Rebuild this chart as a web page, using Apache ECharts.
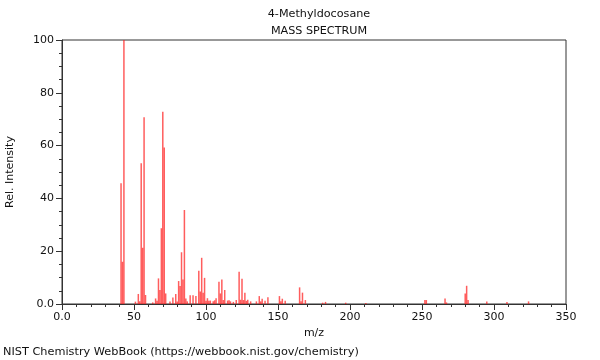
<!DOCTYPE html>
<html>
<head>
<meta charset="utf-8">
<script src="https://cdn.jsdelivr.net/npm/echarts@6/dist/echarts.min.js"></script>
<style>html,body{margin:0;padding:0;background:#fff;}#c{width:600px;height:360px;}</style>
</head>
<body>
<div id="c"></div>
<script>
const titleText = "4-Methyldocosane";
const subtitleText = "MASS SPECTRUM";
const footerText = "NIST Chemistry WebBook (https://webbook.nist.gov/chemistry)";
const mzValues = [41,42,43,51,53,54,55,56,57,58,63,65,66,67,68,69,70,71,72,75,77,79,80,81,82,83,84,85,86,87,89,91,93,95,96,97,98,99,100,101,102,103,105,106,107,109,110,111,112,113,115,116,117,119,121,123,124,125,126,127,128,129,131,135,137,138,139,141,143,151,152,153,155,165,166,167,169,181,183,197,211,252,253,266,267,280,281,282,295,309,324];
const intensities = [45.7,16.0,100,0.9,3.8,1.0,53.3,21.3,70.7,3.4,0.6,2.1,1.2,9.7,5.3,28.7,72.8,59.3,4.0,0.9,2.5,3.8,0.9,8.7,6.8,19.6,9.3,35.6,2.1,1.0,3.3,3.3,3.0,12.6,4.7,17.5,4.3,9.9,1.2,2.2,1.2,1.3,1.0,1.4,2.2,8.4,4.0,9.3,1.5,5.3,1.3,1.4,1.0,0.8,1.5,12.2,1.6,9.6,1.5,4.3,1.2,1.6,1.0,1.0,3.0,1.0,2.0,1.2,2.6,3.0,1.0,2.0,1.2,6.3,1.0,4.3,1.5,0.5,0.8,0.5,0.4,1.5,1.5,2.1,0.6,4.0,6.9,1.5,0.9,0.8,1.0];
const xTicks = {min: 0, max: 350, interval: 50};
const yTicks = {min: 0, max: 100, interval: 20};

const chart = echarts.init(document.getElementById('c'), null, {renderer: 'canvas'});
const font = 'DejaVu Sans';
const fmt = v => v === 0 ? '0.0' : String(v);
chart.setOption({
  animation: false,
  backgroundColor: '#fff',
  textStyle: {fontFamily: font},
  title: [
    {text: titleText, left: 314, top: 4, textAlign: 'center', textStyle: {fontSize: 11.2, fontWeight: 'normal', color: '#111', fontFamily: font}},
    {text: subtitleText, left: 314, top: 21, textAlign: 'center', textStyle: {fontSize: 11.2, fontWeight: 'normal', color: '#111', fontFamily: font}},
    {text: footerText, left: 3, top: 347, padding: 0, textStyle: {fontSize: 11.3, fontWeight: 'normal', color: '#111', fontFamily: font}}
  ],
  grid: {left: 62, right: 34, top: 40, bottom: 56, show: true, borderColor: '#333', borderWidth: 1, backgroundColor: 'transparent', containLabel: false, outerBoundsMode: 'none'},
  xAxis: {
    type: 'value', min: xTicks.min, max: xTicks.max, interval: xTicks.interval,
    name: 'm/z', nameLocation: 'middle', nameGap: 24,
    nameTextStyle: {fontSize: 11, color: '#111', fontFamily: font},
    axisLine: {show: true, lineStyle: {color: '#333'}},
    axisTick: {show: true, length: 6, lineStyle: {color: '#333'}},
    minorTick: {show: true, splitNumber: 5, length: 3, lineStyle: {color: '#333'}},
    splitLine: {show: false},
    axisLabel: {fontSize: 11, color: '#111', margin: 8, formatter: fmt, fontFamily: font}
  },
  yAxis: {
    type: 'value', min: yTicks.min, max: yTicks.max, interval: yTicks.interval,
    name: 'Rel. Intensity', nameLocation: 'middle', nameGap: 46,
    nameTextStyle: {fontSize: 11, color: '#111', fontFamily: font},
    axisLine: {show: true, lineStyle: {color: '#333'}},
    axisTick: {show: true, length: 6, lineStyle: {color: '#333'}},
    minorTick: {show: true, splitNumber: 4, length: 3, lineStyle: {color: '#333'}},
    splitLine: {show: false},
    axisLabel: {fontSize: 11, color: '#111', margin: 8, formatter: fmt, fontFamily: font}
  },
  series: [{
    type: 'bar',
    barWidth: 1.5,
    itemStyle: {color: 'rgba(255,30,30,0.72)'},
    data: mzValues.map((m, i) => [m, intensities[i]])
  }]
});
</script>
</body>
</html>
